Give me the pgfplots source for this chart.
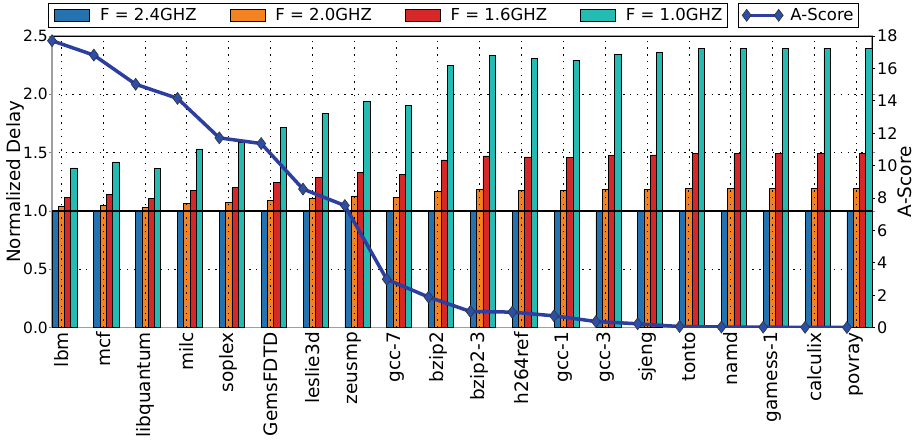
\documentclass[border=0pt]{standalone}
\usepackage{fontspec}
\setmainfont{DejaVu Sans}
\usepackage{pgfplots}
\usepackage{pgfplotstable}
\pgfplotsset{compat=1.18}
\definecolor{cblue}{RGB}{36,114,176}
\definecolor{corange}{RGB}{245,130,32}
\definecolor{cred}{RGB}{214,40,40}
\definecolor{cteal}{RGB}{36,187,178}
\definecolor{cline}{RGB}{44,62,160}
\definecolor{cmark}{RGB}{45,78,168}

\pgfplotstableread{
x  lx      b  o      r      c      a
0  -0.225  1  1.043  1.118  1.368  17.71
1  0.775   1  1.049  1.138  1.420  16.82
2  1.775   1  1.029  1.109  1.365  15.02
3  2.775   1  1.066  1.178  1.532  14.15
4  3.775   1  1.075  1.198  1.589  11.71
5  4.775   1  1.092  1.247  1.716  11.36
6  5.775   1  1.109  1.290  1.833  8.55
7  6.775   1  1.129  1.328  1.942  7.53
8  7.775   1  1.118  1.316  1.902  2.98
9  8.775   1  1.170  1.437  2.247  1.88
10 9.775   1  1.181  1.471  2.333  0.99
11 10.775  1  1.178  1.463  2.310  0.95
12 11.775  1  1.178  1.457  2.293  0.72
13 12.775  1  1.187  1.474  2.345  0.37
14 13.775  1  1.187  1.480  2.360  0.23
15 14.775  1  1.190  1.491  2.394  0.06
16 15.775  1  1.190  1.491  2.394  0.03
17 16.775  1  1.190  1.491  2.394  0.02
18 17.775  1  1.190  1.491  2.394  0.01
19 18.775  1  1.190  1.491  2.394  0.00
}\data

\begin{document}
\begin{tikzpicture}
\useasboundingbox (-52pt,-112.5pt) rectangle (869pt,327.5pt);
\begin{axis}[
  width=820pt, height=291.5pt, scale only axis,
  xmin=-0.225, xmax=19.375, ymin=0, ymax=2.5,
  xtick={0,...,19},
  xticklabels={lbm,mcf,libquantum,milc,soplex,GemsFDTD,leslie3d,zeusmp,gcc-7,bzip2,bzip2-3,h264ref,gcc-1,gcc-3,sjeng,tonto,namd,gamess-1,calculix,povray},
  xticklabel style={rotate=90, anchor=east, font=\fontsize{18.5}{22}\selectfont, inner sep=1.5pt},
  xtick style={draw=none},
  ytick={0,0.5,1,1.5,2,2.5},
  yticklabels={0.0,0.5,1.0,1.5,2.0,2.5},
  yticklabel style={font=\fontsize{15.5}{18}\selectfont, inner sep=1pt},
  ytick style={gray, line width=0.8pt},
  tick align=outside, major tick length=3pt,
  grid=major,
  major grid style={black, line width=0.9pt, dash pattern=on 1.3pt off 5.5pt},
  axis line style={gray!75, line width=1.3pt},
  ylabel={Normalized Delay},
  every axis y label/.style={at={(axis description cs:0,0.5)}, xshift=-46pt, rotate=90, anchor=north, font=\fontsize{18.3}{21}\selectfont, inner sep=0pt},
  legend columns=4,
  legend style={at={(axis description cs:0,1)}, anchor=north west, xshift=-4pt, yshift=33pt,
    draw=black, line width=0.9pt, font=\fontsize{16.5}{19}\selectfont,
    inner xsep=3pt, inner ysep=3pt,
    /tikz/every even column/.append style={column sep=28pt},
    nodes={inner sep=2pt}},
  legend image code/.code={\draw[#1,/tikz/.cd,draw=black,line width=0.7pt] (3pt,-6pt) rectangle (38pt,6pt); \path (0pt,0pt) (46pt,0pt);},
]
\addplot[ybar, bar width=0.15, bar shift=-0.15, fill=cblue, draw=black, line width=0.7pt] table[x=x,y=b]{\data};
\addlegendentry{F = 2.4GHZ}
\addplot[ybar, bar width=0.15, bar shift=0, fill=corange, draw=black, line width=0.7pt] table[x=x,y=o]{\data};
\addlegendentry{F = 2.0GHZ}
\addplot[ybar, bar width=0.15, bar shift=0.15, fill=cred, draw=black, line width=0.7pt] table[x=x,y=r]{\data};
\addlegendentry{F = 1.6GHZ}
\addplot[ybar, bar width=0.15, bar shift=0.3, fill=cteal, draw=black, line width=0.7pt] table[x=x,y=c]{\data};
\addlegendentry{F = 1.0GHZ}
\addplot[ycomb, forget plot, black, line width=1pt, dash pattern=on 1.3pt off 5.5pt, mark=none] table[x=x,y=o]{\data};
\addplot[forget plot, black, line width=1.2pt] coordinates {(-0.225,1) (19.375,1)};
\end{axis}
\begin{axis}[
  width=820pt, height=291.5pt, scale only axis,
  xmin=-0.225, xmax=19.375, ymin=0, ymax=18,
  axis x line*=top, axis y line*=right,
  xtick=\empty,
  ytick={0,2,4,6,8,10,12,14,16,18},
  yticklabels={0,2,4,6,8,10,12,14,16,18},
  yticklabel style={font=\fontsize{16}{19}\selectfont, inner sep=2pt},
  tick align=outside, major tick length=3pt,
  ytick style={black, line width=0.8pt},
  axis line style={black, line width=1pt},
  ylabel={A-Score},
  every axis y label/.style={at={(axis description cs:1,0.5)}, xshift=26pt, rotate=90, anchor=north, font=\fontsize{18.5}{21}\selectfont, inner sep=0pt},
  legend style={at={(axis description cs:1,1)}, anchor=north east, xshift=-13pt, yshift=33pt,
    draw=black, line width=0.9pt, font=\fontsize{16.5}{19}\selectfont,
    inner xsep=3pt, inner ysep=3pt, nodes={inner sep=2pt}},
  legend image code/.code={\draw[mark repeat=1,mark phase=1,#1,/tikz/.cd,line width=2.5pt] plot coordinates {(4pt,0pt) (36pt,0pt)}; \path (0pt,0pt) (44pt,0pt);},
]
\addplot[cline, line width=3.5pt, mark=diamond*, mark size=6pt, mark options={fill=cmark, draw=black!80, line width=0.6pt, solid}] table[x=lx,y=a]{\data};
\addlegendentry{A-Score}
\end{axis}
\end{tikzpicture}
\end{document}
